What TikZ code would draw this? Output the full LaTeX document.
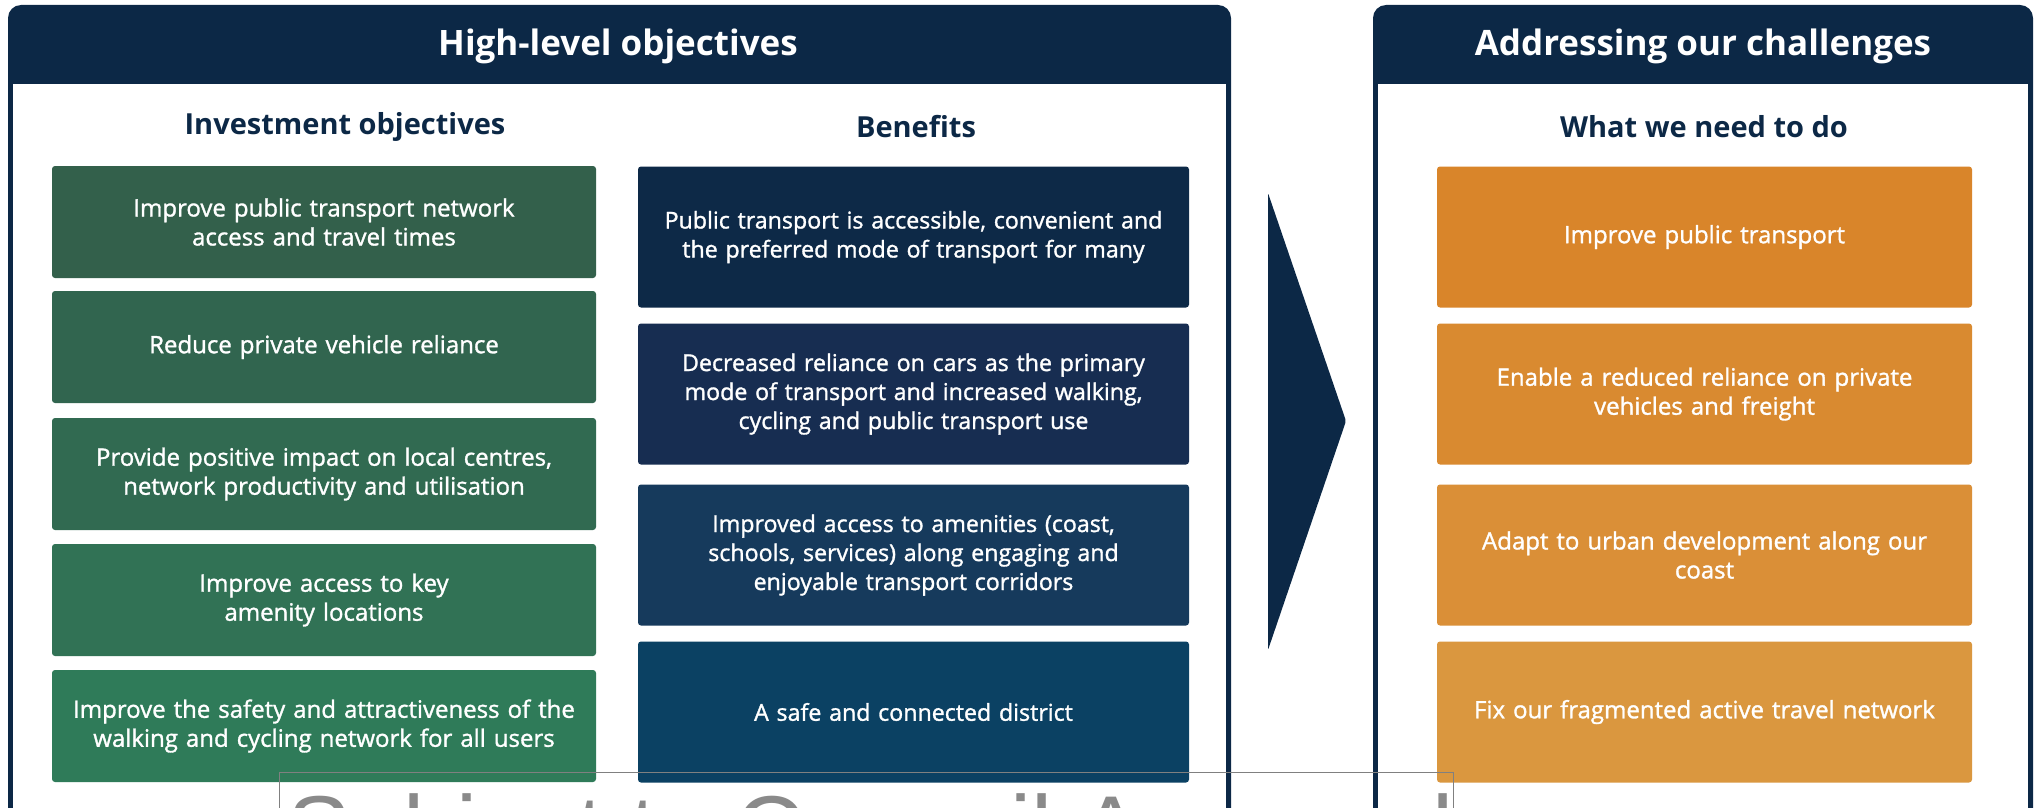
\documentclass[tikz,border=0pt]{standalone}
\usepackage{fontspec}
\setmainfont{Open Sans}
\newfontfamily\boxfont{Open Sans}[FakeBold=1.3]
\newfontfamily\wmfont{Liberation Sans}
\definecolor{navy}{HTML}{0C2846}
\definecolor{gA}{HTML}{33604B}
\definecolor{gB}{HTML}{31654F}
\definecolor{gC}{HTML}{316A51}
\definecolor{gD}{HTML}{317255}
\definecolor{gE}{HTML}{2F7B59}
\definecolor{bA}{HTML}{0D2947}
\definecolor{bB}{HTML}{172D51}
\definecolor{bC}{HTML}{163A5C}
\definecolor{bD}{HTML}{0B4163}
\definecolor{oA}{HTML}{D9852A}
\definecolor{oB}{HTML}{D98A30}
\definecolor{oC}{HTML}{DA8F37}
\definecolor{oD}{HTML}{DA973F}
\definecolor{wmgray}{HTML}{8A8A8A}
\tikzset{
  x=1pt, y=-1pt,
  boxtext/.style={text=white, align=center, inner sep=0pt, rounded corners=3pt,
    font=\boxfont\fontsize{24}{29}\selectfont},
  greenbox/.style={boxtext, minimum width=544pt, minimum height=112pt, text width=520pt},
  bluebox/.style={boxtext, minimum width=551pt, minimum height=141pt, text width=530pt,
    font=\boxfont\fontsize{23.2}{29}\selectfont},
  orangebox/.style={boxtext, minimum width=535pt, minimum height=141pt, text width=515pt},
  paneltitle/.style={text=white, font=\fontsize{35}{40}\selectfont\bfseries, inner sep=0pt},
  subtitle/.style={text=navy, font=\fontsize{29}{34}\selectfont\bfseries, inner sep=0pt},
}
\begin{document}
\begin{tikzpicture}
\useasboundingbox (0,0) rectangle (2038,808);
\clip (0,0) rectangle (2038,808);
% panels
\fill[navy, rounded corners=13pt] (8,5) rectangle (1231,860);
\fill[white] (13,84) rectangle (1226,860);
\fill[navy, rounded corners=13pt] (1373,5) rectangle (2033,860);
\fill[white] (1378,84) rectangle (2028,860);
\node[paneltitle] (hl) at (618,46) {High-level objectives};
\node[paneltitle] (ac) at (1703,46) {Addressing our challenges};
\node[subtitle] (io) at (345,127) {Investment objectives};
\node[subtitle] (bn) at (916,127) {Benefits};
\node[subtitle] (wd) at (1704,127) {What we need to do};
% investment objectives
\node[greenbox, fill=gA] (g1) at (324,222) {Improve public transport network\\access and travel times};
\node[greenbox, fill=gB] (g2) at (324,347) {Reduce private vehicle reliance};
\node[greenbox, fill=gC] (g3) at (324,474) {Provide positive impact on local centres,\\network productivity and utilisation};
\node[greenbox, fill=gD] (g4) at (324,600) {Improve access to key\\amenity locations};
\node[greenbox, fill=gE] (g5) at (324,726) {Improve the safety and attractiveness of the\\walking and cycling network for all users};
% benefits
\node[bluebox, fill=bA] (b1) at (913.5,237) {Public transport is accessible, convenient and\\the preferred mode of transport for many};
\node[bluebox, fill=bB] (b2) at (913.5,394) {Decreased reliance on cars as the primary\\mode of transport and increased walking,\\cycling and public transport use};
\node[bluebox, fill=bC] (b3) at (913.5,555) {Improved access to amenities (coast,\\schools, services) along engaging and\\enjoyable transport corridors};
\node[bluebox, fill=bD] (b4) at (913.5,712) {A safe and connected district};
% what we need to do
\node[orangebox, fill=oA] (o1) at (1704.5,237) {Improve public transport};
\node[orangebox, fill=oB] (o2) at (1704.5,394) {Enable a reduced reliance on private\\vehicles and freight};
\node[orangebox, fill=oC] (o3) at (1704.5,555) {Adapt to urban development along our\\coast};
\node[orangebox, fill=oD] (o4) at (1704.5,712) {Fix our fragmented active travel network};
% chevron
\fill[navy, rounded corners=2pt] (1268,193) -- (1346,421) -- (1268,650) -- cycle;
% watermark
\draw[gray, line width=1pt] (279,772) rectangle (1453,900);
\node[anchor=base west, inner sep=0pt, text=wmgray, font=\wmfont\fontsize{95}{100}\selectfont] (wm) at (287,862) {Subject to Council Approval};
\end{tikzpicture}
\end{document}
